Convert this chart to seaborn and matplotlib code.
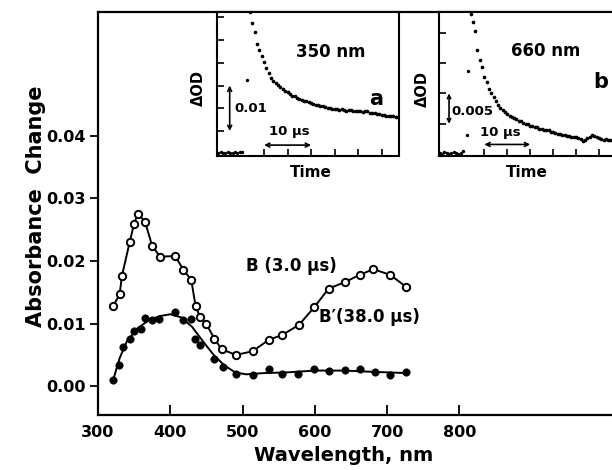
import numpy as np
import pandas as pd
import matplotlib
matplotlib.use("Agg")
import matplotlib.pyplot as plt
import seaborn as sns

# ---- main spectra (wavelength nm, absorbance change) ----
wl_B = [321, 330, 333, 344, 350, 355, 365, 375, 386, 407, 418, 429, 435, 441,
        450, 461, 471, 491, 514, 536, 555, 578, 599, 619, 641, 662, 681, 704, 726]
abs_B = [0.0128, 0.0147, 0.0176, 0.0231, 0.0260, 0.0276, 0.0263, 0.0224, 0.0207,
         0.0208, 0.0186, 0.0170, 0.0128, 0.0111, 0.0099, 0.0076, 0.0059, 0.0050,
         0.0056, 0.0074, 0.0082, 0.0098, 0.0126, 0.0156, 0.0166, 0.0178, 0.0187,
         0.0178, 0.0159]

wl_Bp = [321, 329, 335, 344, 350, 359, 365, 375, 385, 406, 418, 429, 434, 441,
         461, 473, 491, 514, 536, 555, 577, 599, 619, 641, 662, 683, 704, 726]
abs_Bp = [0.0010, 0.0034, 0.0063, 0.0075, 0.0089, 0.0092, 0.0109, 0.0106, 0.0107,
          0.0119, 0.0106, 0.0108, 0.0075, 0.0066, 0.0044, 0.0030, 0.0019, 0.0018,
          0.0027, 0.0019, 0.0019, 0.0028, 0.0024, 0.0026, 0.0028, 0.0023, 0.0018,
          0.0023]

# hand-drawn fit through B'
fit_wl_Bp = [321, 330, 340, 355, 370, 385, 400, 415, 430, 445, 460, 475, 490,
             505, 530, 560, 600, 640, 680, 726]
fit_abs_Bp = [0.0010, 0.0045, 0.0072, 0.0093, 0.0105, 0.0112, 0.0115, 0.0110,
              0.0095, 0.0072, 0.0050, 0.0033, 0.0022, 0.0019, 0.0021, 0.0022,
              0.0025, 0.0025, 0.0023, 0.0021]

# ---- inset a: 350 nm trace ----
base_a = [0.0002, 0.0003, 0.0001, 0.0002, 0.0004, 0.0002, 0.0001, 0.0003,
          0.0002, 0.0003, 0.0004]
jump_a = [6.3, 0.0162]
decay_a = [0.0311, 0.0287, 0.0268, 0.0242, 0.0228, 0.0215, 0.0203, 0.0189,
           0.0177, 0.0167, 0.0160, 0.0155, 0.0151, 0.0147, 0.0143, 0.0138,
           0.0135, 0.0131, 0.0128, 0.0126, 0.0123, 0.0120, 0.0118, 0.0116,
           0.0115, 0.0113, 0.0111, 0.0110, 0.0108, 0.0107, 0.0106, 0.0104,
           0.0103, 0.0101, 0.0100, 0.0098, 0.0098, 0.0099, 0.0097, 0.0098,
           0.0096, 0.0095, 0.0097, 0.0096, 0.0094, 0.0095, 0.0093, 0.0095,
           0.0092, 0.0094, 0.0093, 0.0090, 0.0089, 0.0090, 0.0087, 0.0088,
           0.0085, 0.0086, 0.0084, 0.0083, 0.0084, 0.0082, 0.0081, 0.0080]

# ---- inset b: 660 nm trace ----
base_b = [0.0002, 0.0001, 0.0003, 0.0002, 0.0001, 0.0002, 0.0003, 0.0002,
          0.0001, 0.0002, 0.0006]
jump_b = [[6.2, 0.0032], [6.5, 0.0137]]
decay_b = [0.0230, 0.0217, 0.0203, 0.0172, 0.0155, 0.0144, 0.0127, 0.0118,
           0.0108, 0.0101, 0.0094, 0.0087, 0.0081, 0.0076, 0.0072, 0.0069,
           0.0066, 0.0063, 0.0061, 0.0059, 0.0058, 0.0055, 0.0054, 0.0052,
           0.0050, 0.0049, 0.0047, 0.0046, 0.0045, 0.0044, 0.0042, 0.0041,
           0.0040, 0.0039, 0.0039, 0.0037, 0.0036, 0.0035, 0.0034, 0.0033,
           0.0031, 0.0031, 0.0030, 0.0030, 0.0029, 0.0028, 0.0028, 0.0027,
           0.0025, 0.0022, 0.0024, 0.0027, 0.0029, 0.0031, 0.0030, 0.0028,
           0.0026, 0.0025, 0.0024, 0.0025, 0.0023, 0.0024, 0.0022]

# sampling clock of the transient recorder, 0.5 us
t_base = np.arange(len(base_a)) * 0.5 + 0.3
t_decay_a = np.arange(len(decay_a)) * 0.5 + 7.0
t_decay_b = np.arange(len(decay_b)) * 0.5 + 7.0

sns.set_style("ticks")
plt.rcParams["font.family"] = ["DejaVu Sans"]
plt.rcParams["font.weight"] = "bold"
plt.rcParams["axes.linewidth"] = 1.6
for k in ["text.color", "axes.labelcolor", "axes.edgecolor", "xtick.color", "ytick.color"]:
    plt.rcParams[k] = "black"

W, H = 612, 470
fig = plt.figure(figsize=(W / 100, H / 100), dpi=100)


def fx(px):
    return px / W


def fy(py):
    return 1 - py / H


# ---------------- main axes ----------------
ax = fig.add_axes([fx(98), fy(415), fx(514), 403 / H])
sns.lineplot(x=wl_B, y=abs_B, ax=ax, color="black", linewidth=1.4, sort=False)
sns.lineplot(x=fit_wl_Bp, y=fit_abs_Bp, ax=ax, color="black", linewidth=1.4, sort=False)
sns.scatterplot(x=wl_B, y=abs_B, ax=ax, marker="o", s=28, facecolor="white",
                edgecolor="black", linewidth=1.4, zorder=3)
sns.scatterplot(x=wl_Bp, y=abs_Bp, ax=ax, marker="o", s=28, color="black",
                edgecolor="black", linewidth=0.5, zorder=3)

ax.set_xlim(300, 1011)
ax.set_ylim(-0.0046, 0.0598)
ax.set_xticks([300, 400, 500, 600, 700, 800])
ax.set_yticks([0.0, 0.01, 0.02, 0.03, 0.04])
ax.set_yticklabels(["0.00", "0.01", "0.02", "0.03", "0.04"])
ax.tick_params(axis="x", direction="in", length=7, width=1.3, pad=7, labelsize=11.5)
ax.tick_params(axis="y", direction="out", length=6, width=1.3, pad=3, labelsize=11.5)
ax.spines["right"].set_visible(False)

ax.set_xlabel("Wavelength, nm", fontsize=14, fontweight="bold")
ax.set_ylabel("Absorbance  Change", fontsize=15, fontweight="bold")
ax.xaxis.set_label_coords((344 - 98) / 514, (415 - 446) / 403)
ax.yaxis.set_label_coords((46 - 98) / 514, (415 - 206) / 403)

ax.text(567, 0.0192, "B (3.0 \u03bcs)", fontsize=12, fontweight="bold",
        ha="center", va="center")
ax.text(675, 0.0110, "B\u2032(38.0 \u03bcs)", fontsize=12, fontweight="bold",
        ha="center", va="center")


def inset(left_px, xmax, ylo, yhi, yticks):
    a = fig.add_axes([fx(left_px), fy(156), fx(182), 144 / H])
    a.set_facecolor("white")
    a.set_xlim(0, xmax)
    a.set_ylim(ylo, yhi)
    a.set_xticks([10, 15, 20, 25, 30, 35])
    a.set_yticks(yticks)
    a.tick_params(direction="in", length=5, width=1.2, labelbottom=False,
                  labelleft=False)
    for s in a.spines.values():
        s.set_linewidth(1.5)
    return a


# ---------------- inset a ----------------
ia = inset(217, 38.7, -0.0005, 0.0312, [0.005, 0.010, 0.015, 0.020, 0.025, 0.030])
sns.scatterplot(x=t_base, y=base_a, ax=ia, s=6, color="black", linewidth=0)
sns.scatterplot(x=[jump_a[0]], y=[jump_a[1]], ax=ia, s=6, color="black", linewidth=0)
sns.scatterplot(x=t_decay_a, y=decay_a, ax=ia, s=7, color="black", linewidth=0)
ia.text(24.2, 0.0224, "350 nm", fontsize=12, fontweight="bold", ha="center", va="center")
ia.text(33.8, 0.0120, "a", fontsize=15, fontweight="bold", ha="center", va="center")
ia.annotate("", xy=(2.7, 0.0050), xytext=(2.7, 0.0150),
            arrowprops=dict(arrowstyle="<->", lw=1.2, color="black",
                            shrinkA=0, shrinkB=0, mutation_scale=7))
ia.text(3.6, 0.0100, "0.01", fontsize=9.5, fontweight="bold", ha="left", va="center")
ia.annotate("", xy=(10, 0.0019), xytext=(20, 0.0019),
            arrowprops=dict(arrowstyle="<->", lw=1.2, color="black",
                            shrinkA=0, shrinkB=0, mutation_scale=7))
ia.text(15.3, 0.0048, "10 \u03bcs", fontsize=9.5, fontweight="bold", ha="center", va="center")
fig.text(fx(311), fy(173), "Time", fontsize=11, fontweight="bold", ha="center", va="center")
fig.text(fx(198), fy(88), "\u0394OD", fontsize=10.5, fontweight="bold", rotation=90,
         ha="center", va="center")

# ---------------- inset b ----------------
ib = inset(438.5, 39.7, -0.0003, 0.0234, [0.005, 0.010, 0.015, 0.020])
sns.scatterplot(x=t_base, y=base_b, ax=ib, s=6, color="black", linewidth=0)
sns.scatterplot(x=[p[0] for p in jump_b], y=[p[1] for p in jump_b], ax=ib, s=6,
                color="black", linewidth=0)
sns.scatterplot(x=t_decay_b, y=decay_b, ax=ib, s=7, color="black", linewidth=0)
ib.text(23.3, 0.0170, "660 nm", fontsize=12, fontweight="bold", ha="center", va="center")
ib.text(35.3, 0.0119, "b", fontsize=15, fontweight="bold", ha="center", va="center")
ib.annotate("", xy=(2.3, 0.0050), xytext=(2.3, 0.0100),
            arrowprops=dict(arrowstyle="<->", lw=1.2, color="black",
                            shrinkA=0, shrinkB=0, mutation_scale=6))
ib.text(2.9, 0.0070, "0.005", fontsize=9.5, fontweight="bold", ha="left", va="center")
ib.annotate("", xy=(10, 0.0016), xytext=(20, 0.0016),
            arrowprops=dict(arrowstyle="<->", lw=1.2, color="black",
                            shrinkA=0, shrinkB=0, mutation_scale=7))
ib.text(13.4, 0.0036, "10 \u03bcs", fontsize=9.5, fontweight="bold", ha="center", va="center")
fig.text(fx(527), fy(173), "Time", fontsize=11, fontweight="bold", ha="center", va="center")
fig.text(fx(422), fy(89), "\u0394OD", fontsize=10.5, fontweight="bold", rotation=90,
         ha="center", va="center")

fig.savefig("out.png", dpi=100)
